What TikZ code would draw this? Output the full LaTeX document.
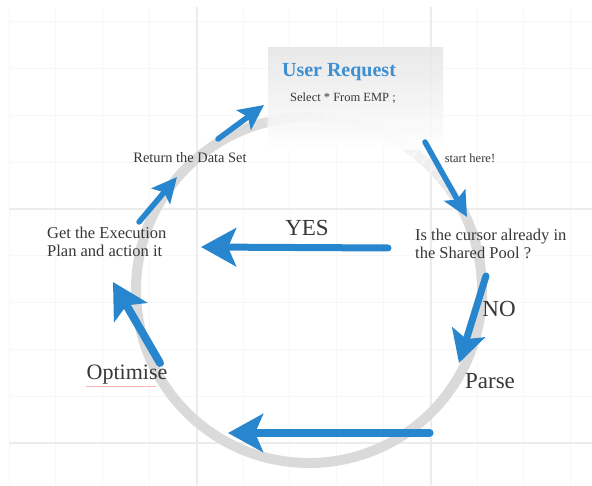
\documentclass[tikz,border=0pt]{standalone}
\usepackage{fontspec}
\setmainfont{Liberation Serif}
\usetikzlibrary{arrows.meta}

\definecolor{flowblue}{RGB}{40,134,207}
\definecolor{headblue}{RGB}{62,144,210}
\definecolor{ringgray}{RGB}{218,218,218}
\definecolor{gridminor}{RGB}{247,247,247}
\definecolor{gridmajor}{RGB}{236,236,236}
\definecolor{textgray}{RGB}{55,55,55}

\begin{document}
\begin{tikzpicture}[x=1pt, y=1pt,
	bigarrow/.style={draw=flowblue, line width=7pt, line cap=round, -{Stealth[length=35pt, width=38pt, inset=8pt]}},
	smallarrow/.style={draw=flowblue, line width=5.5pt, line cap=round, -{Stealth[length=25pt, width=24pt, inset=5pt]}},
	txt/.style={text=textgray, inner sep=0pt, align=left}]
	\useasboundingbox (0,0) rectangle (592,485);
	\fill[white] (0,0) rectangle (592,485);

	% grid
	\foreach \i in {0,...,12}
		\draw[gridminor, line width=1pt] ({9+46.8*\i},0) -- ({9+46.8*\i},478);
	\foreach \j in {0,...,9}
		\draw[gridminor, line width=1pt] (9,{463-46.8*\j}) -- (592,{463-46.8*\j});
	\draw[gridmajor, line width=1.2pt] (197,0) -- (197,478) (431,0) -- (431,478);
	\draw[gridmajor, line width=1.2pt] (9,276) -- (592,276) (9,42) -- (592,42);

	% ring, faded towards the request box
	\coordinate (mid) at (309,195);
	\draw[ringgray, line width=10pt] (mid) circle[radius=173pt];
	\foreach \a in {20,24,...,104} {
		\pgfmathsetmacro\op{0.75*sin((\a-20)*180/88)}
		\draw[white, opacity=\op, line width=11pt] (mid) ++(\a:173pt) arc[start angle=\a, end angle=\a+4.5, radius=173pt];
	}

	% request box
	\node[minimum width=175pt, minimum height=102pt, inner sep=0pt, top color=gray!20, bottom color=white, fill opacity=0.85] (box) at (355.5,386) {};
	\node[font=\fontsize{20}{24}\selectfont\bfseries, text=headblue, inner sep=0pt] (user) at (339,413) {User Request};
	\node[txt, font=\fontsize{12.5}{15}\selectfont] (sel) at (343,387) {Select * From EMP ;};

	% texts
	\node[txt, font=\fontsize{12.5}{15}\selectfont] (start) at (470,327) {start here!};
	\node[txt, anchor=west, font=\fontsize{16.5}{18}\selectfont] (cursor) at (415,241) {Is the cursor already in\\the Shared Pool ?};
	\node[txt, font=\fontsize{23}{26}\selectfont] (yes) at (307,257) {YES};
	\node[txt, font=\fontsize{23}{26}\selectfont] (no) at (499,176) {NO};
	\node[txt, font=\fontsize{23}{26}\selectfont] (parse) at (490,104) {Parse};
	\node[txt, font=\fontsize{22}{26}\selectfont] (optimise) at (127,110) {Optimise};
	\node[txt, anchor=west, font=\fontsize{16.5}{18}\selectfont] (plan) at (47,243) {Get the Execution\\Plan and action it};
	\node[txt, font=\fontsize{14.4}{17}\selectfont] (ret) at (190,327) {Return the Data Set};
	\draw[red!30, line width=0.5pt] (optimise.south west) ++(0,-1.5) -- ++(70,0);

	% arrows
	\coordinate (a1) at (425,343); \coordinate (b1) at (467,268);
	\coordinate (a2) at (388,237); \coordinate (b2) at (201,238);
	\coordinate (a3) at (486,209); \coordinate (b3) at (459,122);
	\coordinate (a4) at (430,52);  \coordinate (b4) at (228,52);
	\coordinate (a5) at (160,122); \coordinate (b5) at (113,203);
	\coordinate (a6) at (139,263); \coordinate (b6) at (177,308);
	\coordinate (a7) at (218,346); \coordinate (b7) at (264,380);

	\draw[smallarrow] (a1) -- (b1);
	\draw[bigarrow] (a2) -- (b2);
	\draw[bigarrow, -{Stealth[length=32pt, width=34pt, inset=7pt]}] (a3) -- (b3);
	\draw[bigarrow] (a4) -- (b4);
	\draw[bigarrow, line width=8pt] (a5) -- (b5);
	\draw[smallarrow] (a6) -- (b6);
	\draw[smallarrow] (a7) -- (b7);
\end{tikzpicture}
\end{document}
